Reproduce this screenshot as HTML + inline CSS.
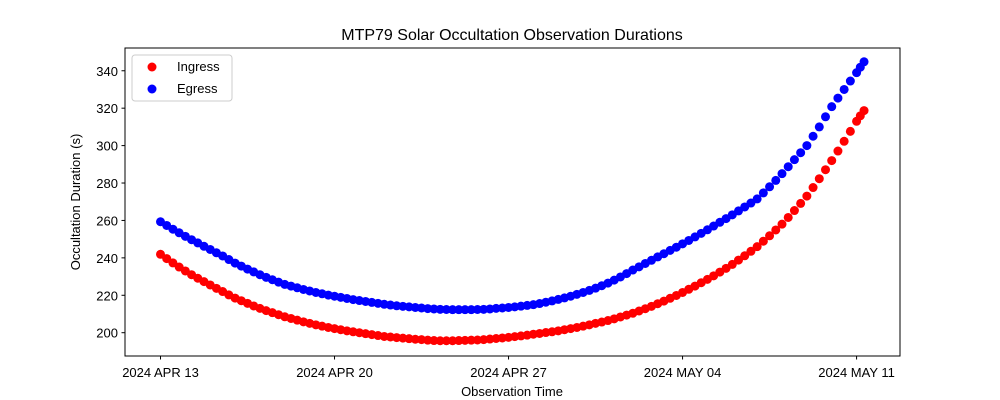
<!DOCTYPE html>
<html><head><meta charset="utf-8"><style>
body{margin:0;background:#fff}
svg{display:block;font-family:"Liberation Sans","DejaVu Sans",sans-serif}
</style></head><body>
<svg id="chart" width="1000" height="400" xmlns="http://www.w3.org/2000/svg">
<rect x="0" y="0" width="1000" height="400" fill="#fff"/>
<text x="512" y="40" font-size="16" text-anchor="middle">MTP79 Solar Occultation Observation Durations</text>
<g id="marks"></g>
<g id="axes"></g>
<rect x="125" y="48" width="775" height="308" fill="none" stroke="#000" stroke-width="1"/>
<text x="512" y="396" font-size="13" text-anchor="middle">Observation Time</text>
<text x="0" y="0" font-size="13" text-anchor="middle" transform="translate(80,202) rotate(-90)">Occultation Duration (s)</text>
<g>
<rect x="132" y="55" width="100" height="46" rx="3" fill="#fff" fill-opacity="0.8" stroke="#ccc"/>
<g><circle cx="152" cy="67" r="4.5" fill="#f00"/><text x="177" y="71" font-size="13">Ingress</text></g>
<g><circle cx="152" cy="89" r="4.5" fill="#00f"/><text x="177" y="93" font-size="13">Egress</text></g>
</g>
</svg>
<script>
const ingress=[
241.9,239.6,237.3,235.1, 233,231,229.1,227.3, 225.5,223.7,222,220.2, 218.5,217.1,215.7,214.3,
213,211.8,210.7,209.6, 208.5,207.6,206.7,205.8, 205,204.2,203.5,202.8, 202.2,201.6,201,200.5,
200,199.5,199,198.5, 198,197.7,197.4,197.1, 196.8,196.5,196.3,196, 195.8,195.7,195.7,195.7,
195.8,195.9,196,196.1, 196.3,196.6,196.9,197.2, 197.5,197.9,198.3,198.7, 199.2,199.6,200.1,200.5,
201,201.6,202.2,202.8, 203.5,204.2,205,205.7, 206.5,207.4,208.4,209.4, 210.4,211.6,212.8,214.1,
215.5,216.9,218.4,219.9, 221.5,223.2,224.9,226.7, 228.5,230.4,232.4,234.4, 236.5,238.8,241.1,243.5,
246,248.9,251.8,254.9, 258,261.6,265.3,269.1, 273,277.6,282.3,287.1, 292,297.1,302.3,307.6,
313,315.9,318.7];
const egress=[
259.3,257.3,255.3,253.4, 251.5,249.7,248,246.2, 244.5,242.7,241,239.1, 237.2,235.6,234,232.5,
231,229.6,228.3,227, 225.8,224.9,224,223.1, 222.3,221.5,220.8,220.1, 219.5,218.9,218.3,217.7,
217.2,216.7,216.2,215.7, 215.2,214.8,214.4,214.1, 213.8,213.5,213.2,212.9, 212.7,212.5,212.4,212.3,
212.3,212.3,212.3,212.4, 212.5,212.7,213,213.2, 213.5,213.8,214.2,214.6, 215,215.6,216.3,217,
217.8,218.6,219.5,220.5, 221.5,222.6,223.8,225.1, 226.5,228.1,229.8,231.6, 233.5,235.2,237,238.7,
240.5,242.2,244,245.7, 247.5,249.3,251.2,253.1, 255,257,259,261, 263,265.1,267.2,269.3,
271.5,274.7,278,281.4, 285,288.7,292.5,296.2, 300,305,310,315.4, 320.8,325.4,330,334.5,
339,341.9,344.8];
const dayOffsets=[
0,0.25,0.5,0.75, 1,1.25,1.5,1.75, 2,2.25,2.5,2.75, 3,3.25,3.5,3.75,
4,4.25,4.5,4.75, 5,5.25,5.5,5.75, 6,6.25,6.5,6.75, 7,7.25,7.5,7.75,
8,8.25,8.5,8.75, 9,9.25,9.5,9.75, 10,10.25,10.5,10.75, 11,11.25,11.5,11.75,
12,12.25,12.5,12.75, 13,13.25,13.5,13.75, 14,14.25,14.5,14.75, 15,15.25,15.5,15.75,
16,16.25,16.5,16.75, 17,17.25,17.5,17.75, 18,18.25,18.5,18.75, 19,19.25,19.5,19.75,
20,20.25,20.5,20.75, 21,21.25,21.5,21.75, 22,22.25,22.5,22.75, 23,23.25,23.5,23.75,
24,24.25,24.5,24.75, 25,25.25,25.5,25.75, 26,26.25,26.5,26.75, 27,27.25,27.5,27.75,
28,28.15,28.3];
const xTickDays=[0,7,14,21,28];
const xTickLabels=["2024 APR 13","2024 APR 20","2024 APR 27","2024 MAY 04","2024 MAY 11"];
const yTicks=[200,220,240,260,280,300,320,340];

const NS="http://www.w3.org/2000/svg";
function xs(d){return 160.5+d*24.86;}
function ys(v){return 332.7-(v-200)*1.871;}
const marks=document.getElementById('marks');
const axes=document.getElementById('axes');
function mk(tag,attrs,parent){const e=document.createElementNS(NS,tag);for(const k in attrs)e.setAttribute(k,attrs[k]);parent.appendChild(e);return e;}
[[ingress,'#f00','ingress-point'],[egress,'#00f','egress-point']].forEach(([vals,col,name])=>{
  vals.forEach((v,i)=>{
    const c=mk('circle',{cx:xs(dayOffsets[i]),cy:ys(v),r:4.5,fill:col},marks);
    
    
  });
});
xTickDays.forEach((d,i)=>{
  const x=xs(d);
  const t=mk('line',{x1:x,x2:x,y1:356,y2:359.5,stroke:'#000'},axes);
  
  
  const l=mk('text',{x:x,y:377,'font-size':13,'text-anchor':'middle'},axes);
  l.textContent=xTickLabels[i];
  
  
});
yTicks.forEach(v=>{
  const y=ys(v);
  const t=mk('line',{x1:121.5,x2:125,y1:y,y2:y,stroke:'#000'},axes);
  
  
  const l=mk('text',{x:118,y:y+5,'font-size':13,'text-anchor':'end'},axes);
  l.textContent=v;
  
  
});
</script>
</body></html>
